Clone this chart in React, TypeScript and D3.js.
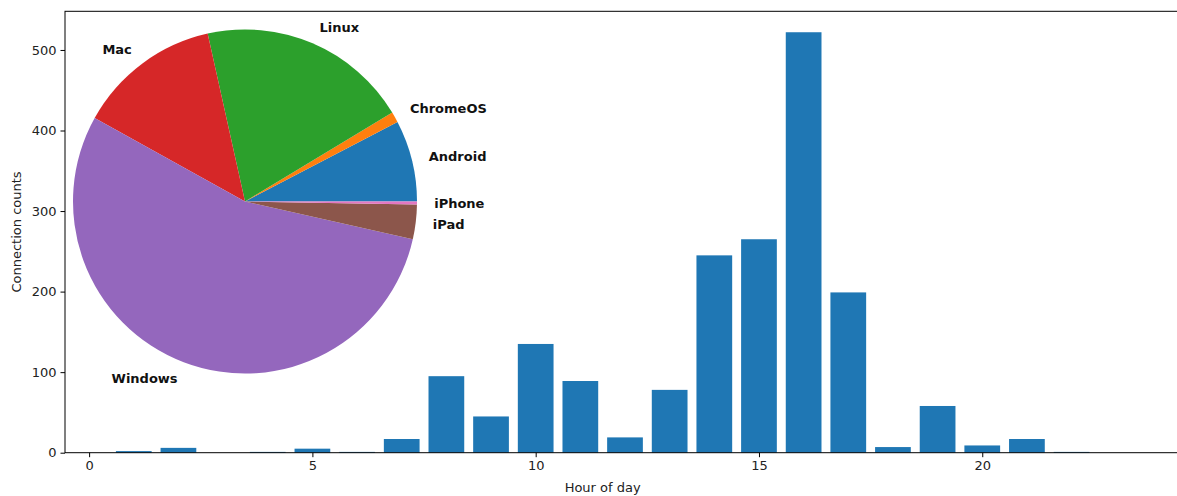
import * as d3 from 'd3'
import { useEffect, useRef } from 'react'

const hours = d3.range(0, 24)
const counts = [0, 2, 6, 0, 1, 5, 1, 17, 95, 45, 135, 89, 19, 78, 245, 265, 522, 199, 7, 58, 9, 17, 1, 0]
const osLabels = ['Android', 'ChromeOS', 'Linux', 'Mac', 'Windows', 'iPad', 'iPhone']
const osCounts = [139, 18, 360, 244, 990, 59, 5]
const osColors = ['#1f77b4', '#ff7f0e', '#2ca02c', '#d62728', '#9467bd', '#8c564b', '#e377c2']
const xTicks = [0, 5, 10, 15, 20]
const yTicks = [0, 100, 200, 300, 400, 500]

export default function App() {
  const ref = useRef<SVGSVGElement | null>(null)

  useEffect(() => {
    if (!ref.current) return
    const width = 1177
    const height = 496
    const left = 65, right = 1185, top = 11.3, bottom = 452.7
    const font = 'DejaVu Sans, sans-serif'

    const svg = d3.select(ref.current)
    svg.selectAll('*').remove()

    const x = d3.scaleLinear().domain([-0.54, 24.54]).range([left, right])
    const y = d3.scaleLinear().domain([0, 548]).range([bottom, top])
    const bw = x(0.8) - x(0)

    svg.append('g')
      .selectAll('rect')
      .data(hours.filter(h => counts[h] > 0))
      .join('rect')
      .attr('x', h => x(h) - bw / 2)
      .attr('y', h => y(counts[h]))
      .attr('width', bw)
      .attr('height', h => y(0) - y(counts[h]))
      .attr('fill', '#1f77b4')

    // frame
    svg.append('rect')
      .attr('x', left).attr('y', top)
      .attr('width', right - left).attr('height', bottom - top)
      .attr('fill', 'none').attr('stroke', '#000').attr('stroke-width', 1)

    const xa = svg.append('g')
      .attr('transform', `translate(0,${bottom})`)
      .call(d3.axisBottom(x).tickValues(xTicks).tickSize(4.5).tickPadding(4).tickFormat(d3.format('d')) as any)
    xa.select('.domain').remove()

    const ya = svg.append('g')
      .attr('transform', `translate(${left},0)`)
      .call(d3.axisLeft(y).tickValues(yTicks).tickSize(4.5).tickPadding(4).tickFormat(d3.format('d')) as any)
    ya.select('.domain').remove()

    svg.selectAll('.tick text')
      .attr('font-family', font).attr('font-size', 13).attr('fill', '#222')

    svg.append('text')
      .attr('x', x(11.5)).attr('y', 492)
      .attr('text-anchor', 'middle')
      .attr('font-family', font).attr('font-size', 13).attr('fill', '#222')
      .text('Hour of day')

    svg.append('text')
      .attr('transform', `translate(21,${(top + bottom) / 2}) rotate(-90)`)
      .attr('text-anchor', 'middle')
      .attr('font-family', font).attr('font-size', 13).attr('fill', '#222')
      .text('Connection counts')

    // inset pie, counter-clockwise from east like matplotlib
    const cx = 245, cy = 201.5, r = 172
    const total = d3.sum(osCounts)
    const pieG = svg.append('g').attr('transform', `translate(${cx},${cy})`)
    let acc = 0
    osCounts.forEach((v, i) => {
      const a0 = (acc / total) * 2 * Math.PI
      acc += v
      const a1 = (acc / total) * 2 * Math.PI
      // d3 arc: angle 0 at top, clockwise. convert ccw-from-east to that
      const arc = d3.arc()({
        innerRadius: 0,
        outerRadius: r,
        startAngle: Math.PI / 2 - a1,
        endAngle: Math.PI / 2 - a0,
      } as any)
      pieG.append('path').attr('d', arc as string).attr('fill', osColors[i])
      const mid = (a0 + a1) / 2
      const lx = 1.1 * r * Math.cos(mid)
      const ly = -1.1 * r * Math.sin(mid)
      pieG.append('text')
        .attr('x', lx).attr('y', ly)
        .attr('dy', '0.35em')
        .attr('text-anchor', lx > 0 ? 'start' : 'end')
        .attr('font-family', font).attr('font-size', 13).attr('font-weight', 'bold')
        .attr('fill', '#111')
        .text(osLabels[i])
    })
  }, [])

  return <svg ref={ref} width={1177} height={496} style={{ position: 'absolute', left: 0, top: 0 }} />
}
